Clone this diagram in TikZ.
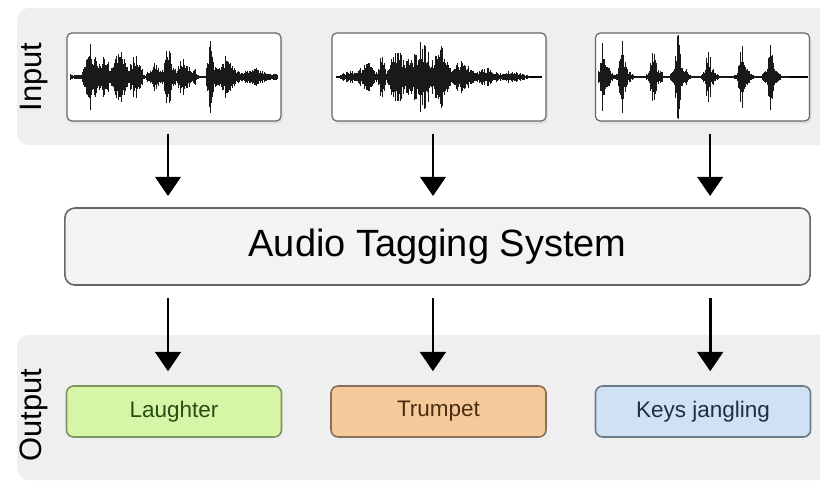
\documentclass[tikz,border=0pt]{standalone}
\usepackage{fontspec}
\setmainfont{Liberation Sans}
\usetikzlibrary{arrows.meta,shadows}

\definecolor{bandgray}{HTML}{EFEFEF}
\definecolor{boxedge}{HTML}{666666}
\definecolor{atsfill}{HTML}{F3F3F3}
\definecolor{laughfill}{HTML}{D6F5A6}
\definecolor{laughedge}{HTML}{7A9660}
\definecolor{laughtext}{HTML}{274E13}
\definecolor{trumpfill}{HTML}{F6C99A}
\definecolor{trumpedge}{HTML}{86705A}
\definecolor{trumptext}{HTML}{4A2E12}
\definecolor{keysfill}{HTML}{CFE2F3}
\definecolor{keysedge}{HTML}{6A7B8A}
\definecolor{keystext}{HTML}{1C2F44}

\tikzset{
  wavebox/.style={draw=boxedge, fill=white, line width=0.03cm, rounded corners=0.12cm,
    minimum width=5.35cm, minimum height=2.2cm, inner sep=0pt,
    drop shadow={shadow xshift=0.05cm, shadow yshift=-0.07cm, opacity=0.12}},
  tagbox/.style={draw, line width=0.04cm, rounded corners=0.18cm,
    minimum width=5.375cm, minimum height=1.275cm, inner sep=0pt,
    font=\fontsize{16pt}{19pt}\selectfont},
  bandlabel/.style={rotate=90, font=\fontsize{22pt}{26pt}\selectfont},
  wave/.style={black!90, line width=0.02cm},
  arr/.style={line width=0.065cm, -{Triangle[width=0.64cm,length=0.48cm]}},
  declare function={bump(\t,\c,\w)=max(0,1-abs(\t-\c)/\w);}
}

\begin{document}
\begin{tikzpicture}[x=0.025cm, y=-0.025cm]
  \useasboundingbox (0,0) rectangle (820,495);
  \clip (0,0) rectangle (820,495);
  \fill[bandgray, rounded corners=0.3cm] (17,8) rectangle (840,145);
  \fill[bandgray, rounded corners=0.3cm] (17,335) rectangle (840,480);
  \node[bandlabel] (inlabel) at (34,77) {Input};
  \node[bandlabel] (outlabel) at (34,415) {Output};

  % input clips
  \node[wavebox] (in1) at (174,77) {};
  \node[wavebox] (in2) at (439,77) {};
  \node[wavebox] (in3) at (702.5,77) {};

  \pgfmathsetseed{11}
  \draw[black, line width=0.03cm] (70,77) -- (278,77);
  \foreach \x in {70,70.8,...,278} {
    \pgfmathsetmacro{\amp}{3 + 32*bump(\x,91,9) + 24*bump(\x,104,10) + 35*bump(\x,120,9)
      + 24*bump(\x,135,9) + 12*bump(\x,155,9) + 32*bump(\x,168,6) + 18*bump(\x,183,11)
      + 9*bump(\x,195,2.5) + 40*bump(\x,210,4) + 18*bump(\x,225,16) + 7*bump(\x,255,18)
      - 2.5*bump(\x,202,5)}
    \pgfmathsetmacro{\amp}{\amp*(0.4+0.6*rnd)}
    \draw[wave] (\x,77-\amp) -- (\x,77+\amp);
  }
  \draw[black, line width=0.03cm] (336,77) -- (542,77);
  \foreach \x in {340,340.8,...,530} {
    \pgfmathsetmacro{\amp}{2 + 5*bump(\x,350,14) + 16*bump(\x,368,12) + 38*bump(\x,382,4)
      + 32*bump(\x,398,14) + 37*bump(\x,422,18) + 30*bump(\x,442,10) + 18*bump(\x,462,14)
      + 9*bump(\x,485,14) + 5*bump(\x,510,18)}
    \pgfmathsetmacro{\amp}{\amp*(0.4+0.6*rnd)}
    \draw[wave] (\x,77-\amp) -- (\x,77+\amp);
  }
  \draw[black, line width=0.03cm] (598,77) -- (808,77);
  \foreach \x in {598,598.8,...,790} {
    \pgfmathsetmacro{\amp}{1 + 36*bump(\x,603,3.5) + 26*bump(\x,622,4) + 18*bump(\x,653,4)
      + 39*bump(\x,678,3.5) + 20*bump(\x,708,4) + 26*bump(\x,742,4) + 26*bump(\x,770,4)
      + 14*bump(\x,605,10) + 13*bump(\x,624,10) + 13*bump(\x,655,10) + 15*bump(\x,680,11)
      + 12*bump(\x,710,10) + 13*bump(\x,744,10) + 13*bump(\x,772,11)}
    \pgfmathsetmacro{\amp}{\amp*(0.4+0.6*rnd)}
    \draw[wave] (\x,77-\amp) -- (\x,77+\amp);
  }

  % tagging system
  \node[draw=boxedge, fill=atsfill, line width=0.04cm, rounded corners=0.25cm,
    minimum width=18.625cm, minimum height=1.925cm,
    font=\fontsize{27pt}{32pt}\selectfont] (ats) at (437.5,246.5) {Audio Tagging System};

  % outputs
  \node[tagbox, draw=laughedge, fill=laughfill, text=laughtext] (out1) at (174,411.5) {Laughter};
  \node[tagbox, draw=trumpedge, fill=trumpfill, text=trumptext] (out2) at (438.5,411.5) {Trumpet};
  \node[tagbox, draw=keysedge, fill=keysfill, text=keystext] (out3) at (703,411.5) {Keys jangling};

  \draw[arr, shorten <=0.3cm, shorten >=0.28cm] ([xshift=-0.15cm]in1.south) -- ([xshift=-0.15cm]in1.south |- ats.north);
  \draw[arr, shorten <=0.3cm, shorten >=0.28cm] ([xshift=-0.15cm]in2.south) -- ([xshift=-0.15cm]in2.south |- ats.north);
  \draw[arr, shorten <=0.3cm, shorten >=0.28cm] ([xshift=0.19cm]in3.south) -- ([xshift=0.19cm]in3.south |- ats.north);
  \draw[arr, shorten <=0.3cm, shorten >=0.35cm] ([xshift=-0.15cm]out1.north |- ats.south) -- ([xshift=-0.15cm]out1.north);
  \draw[arr, shorten <=0.3cm, shorten >=0.35cm] ([xshift=-0.14cm]out2.north |- ats.south) -- ([xshift=-0.14cm]out2.north);
  \draw[arr, shorten <=0.3cm, shorten >=0.35cm] ([xshift=0.18cm]out3.north |- ats.south) -- ([xshift=0.18cm]out3.north);
\end{tikzpicture}
\end{document}
